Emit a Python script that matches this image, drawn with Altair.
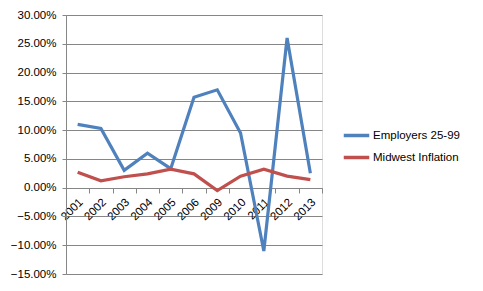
import altair as alt
import pandas as pd

years = ["2001", "2002", "2003", "2004", "2005", "2006", "2009", "2010", "2011", "2012", "2013"]
employers = [11.0, 10.3, 3.0, 6.0, 3.3, 15.7, 17.0, 9.5, -11.0, 26.0, 2.5]
inflation = [2.7, 1.2, 1.9, 2.4, 3.2, 2.4, -0.5, 2.0, 3.2, 2.0, 1.4]
series = ["Employers 25-99", "Midwest Inflation"]

rows = []
for name, vals in zip(series, [employers, inflation]):
    for i, (y, v) in enumerate(zip(years, vals)):
        rows.append({"year": y, "value": v / 100.0, "series": name, "order": i})
df = pd.DataFrame(rows)

FONT = "Liberation Sans"

chart = alt.Chart(df).mark_line(strokeWidth=3.2, strokeJoin="miter").encode(
    x=alt.X("year:N", sort=years,
            scale=alt.Scale(paddingInner=0, paddingOuter=0),
            axis=alt.Axis(title=None, labelAngle=-45, labelAlign="right", labelBaseline="top",
                          offset=-86, tickBand="extent", tickSize=5, tickColor="#868686",
                          domainColor="#868686", labelFont=FONT, labelFontSize=11.5,
                          labelColor="#000000", labelPadding=3, labelOffset=-1, grid=False)),
    y=alt.Y("value:Q",
            scale=alt.Scale(domain=[-0.15, 0.30], nice=False, zero=False),
            axis=alt.Axis(title=None, format=".2%", values=[-0.15, -0.10, -0.05, 0, 0.05, 0.10, 0.15, 0.20, 0.25, 0.30],
                          grid=True, gridColor="#868686", gridWidth=1, tickSize=4,
                          tickColor="#868686", domainColor="#868686", labelFont=FONT,
                          labelFontSize=11.5, labelColor="#000000", labelPadding=6)),
    color=alt.Color("series:N",
                    scale=alt.Scale(domain=series, range=["#4F81BD", "#C0504D"]),
                    legend=alt.Legend(title=None, orient="none", legendX=276, legendY=106,
                                      symbolType="stroke", symbolStrokeWidth=3.5, symbolSize=650,
                                      labelFont=FONT, labelFontSize=11.5, labelColor="#000000",
                                      rowPadding=0, labelOffset=2)),
    detail="series:N",
    order="order:Q",
).properties(
    width=256, height=259,
    autosize=alt.AutoSizeParams(type="none"),
    padding={"left": 58, "top": 7, "right": 153, "bottom": 9},
).configure_view(stroke=None).configure(background="white")

chart.save("out.html", embed_options={"renderer": "svg", "actions": False})
